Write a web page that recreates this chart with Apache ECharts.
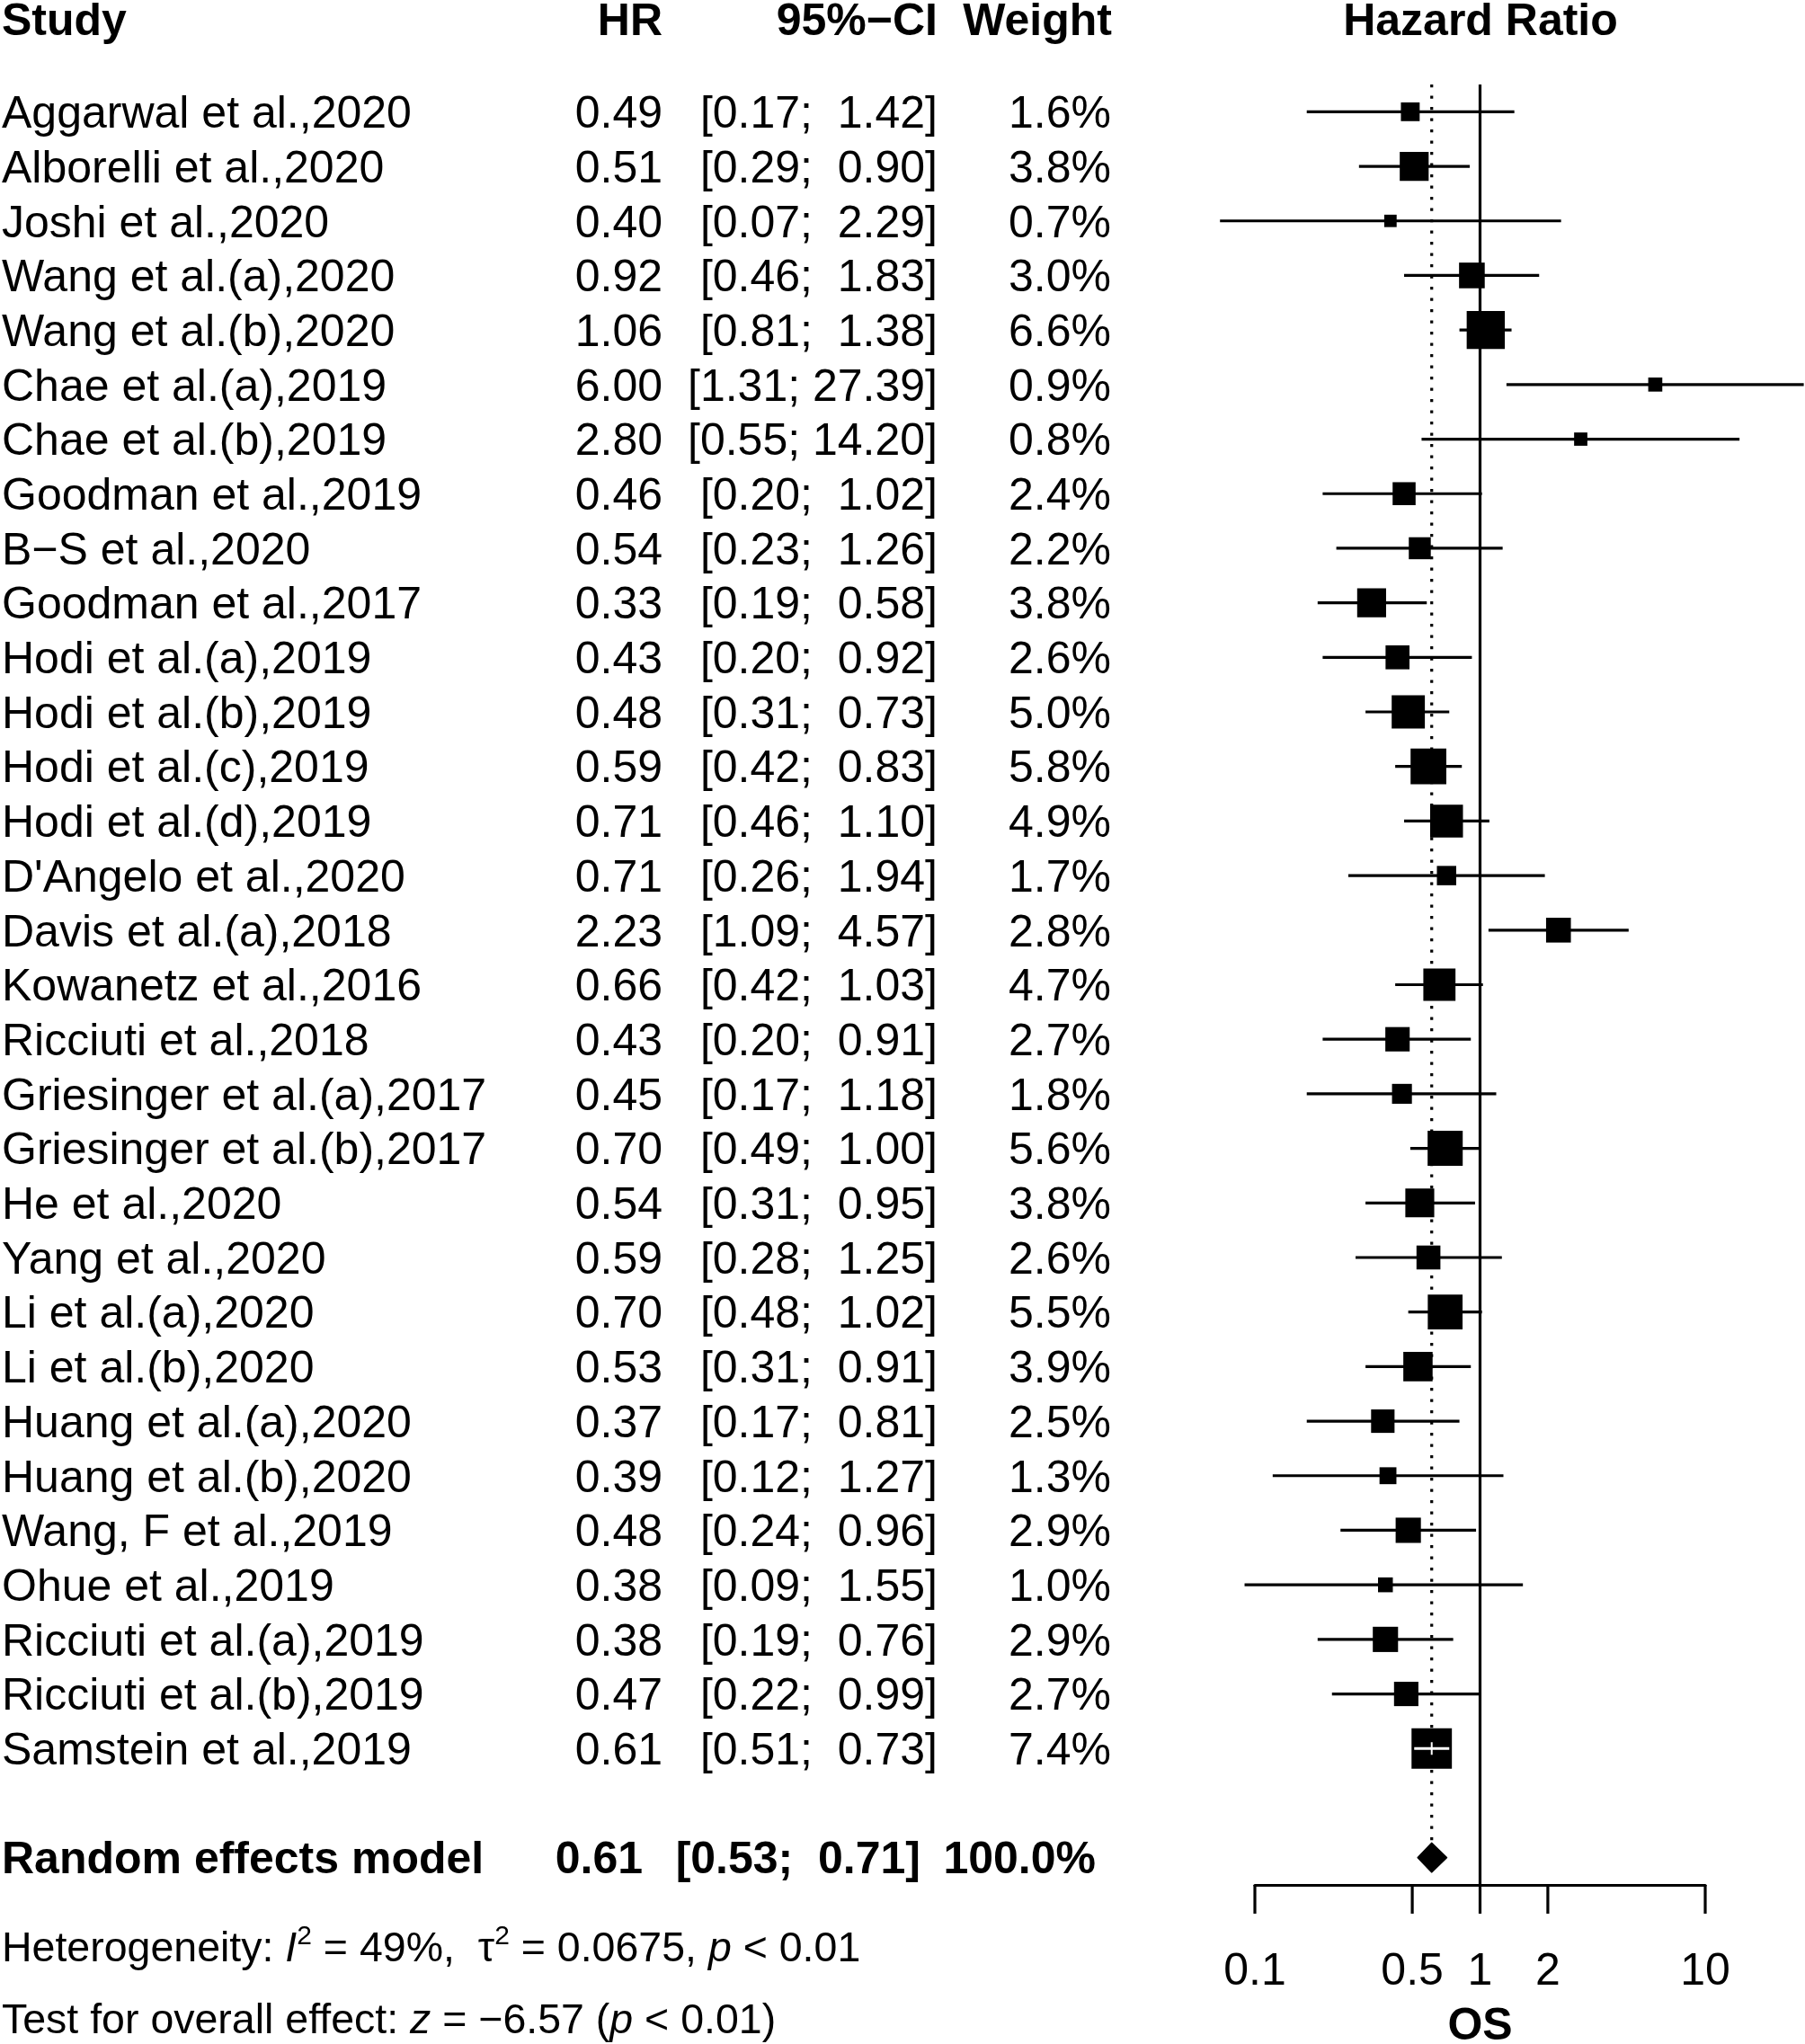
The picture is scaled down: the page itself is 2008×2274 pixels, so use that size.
<!DOCTYPE html>
<html>
<head>
<meta charset="utf-8" />
<title>Forest plot - OS</title>
<script src="https://cdn.jsdelivr.net/npm/echarts@6/dist/echarts.min.js"></script>
<style>html,body{margin:0;padding:0;background:#fff;}</style>
</head>
<body>
<div id="main" style="width:2008px;height:2274px"></div>
<script>
var studies = [
  "Aggarwal et al.,2020", "Alborelli et al.,2020", "Joshi et al.,2020",
  "Wang et al.(a),2020", "Wang et al.(b),2020", "Chae et al.(a),2019",
  "Chae et al.(b),2019", "Goodman et al.,2019", "B\u2212S et al.,2020",
  "Goodman et al.,2017", "Hodi et al.(a),2019", "Hodi et al.(b),2019",
  "Hodi et al.(c),2019", "Hodi et al.(d),2019", "D'Angelo et al.,2020",
  "Davis et al.(a),2018", "Kowanetz et al.,2016", "Ricciuti et al.,2018",
  "Griesinger et al.(a),2017", "Griesinger et al.(b),2017", "He et al.,2020",
  "Yang et al.,2020", "Li et al.(a),2020", "Li et al.(b),2020",
  "Huang et al.(a),2020", "Huang et al.(b),2020", "Wang, F et al.,2019",
  "Ohue et al.,2019", "Ricciuti et al.(a),2019", "Ricciuti et al.(b),2019",
  "Samstein et al.,2019"
];
var hr = [0.49, 0.51, 0.40, 0.92, 1.06, 6.00, 2.80, 0.46, 0.54, 0.33, 0.43,
  0.48, 0.59, 0.71, 0.71, 2.23, 0.66, 0.43, 0.45, 0.70, 0.54, 0.59, 0.70,
  0.53, 0.37, 0.39, 0.48, 0.38, 0.38, 0.47, 0.61];
var lower = [0.17, 0.29, 0.07, 0.46, 0.81, 1.31, 0.55, 0.20, 0.23, 0.19, 0.20,
  0.31, 0.42, 0.46, 0.26, 1.09, 0.42, 0.20, 0.17, 0.49, 0.31, 0.28, 0.48,
  0.31, 0.17, 0.12, 0.24, 0.09, 0.19, 0.22, 0.51];
var upper = [1.42, 0.90, 2.29, 1.83, 1.38, 27.39, 14.20, 1.02, 1.26, 0.58, 0.92,
  0.73, 0.83, 1.10, 1.94, 4.57, 1.03, 0.91, 1.18, 1.00, 0.95, 1.25, 1.02,
  0.91, 0.81, 1.27, 0.96, 1.55, 0.76, 0.99, 0.73];
var weight = [1.6, 3.8, 0.7, 3.0, 6.6, 0.9, 0.8, 2.4, 2.2, 3.8, 2.6, 5.0, 5.8,
  4.9, 1.7, 2.8, 4.7, 2.7, 1.8, 5.6, 3.8, 2.6, 5.5, 3.9, 2.5, 1.3, 2.9, 1.0,
  2.9, 2.7, 7.4];

var pooledLabel = "Random effects model";
var pooled = [0.61, 0.53, 0.71];   // HR, lower, upper
var pooledWeight = "100.0%";
var tickValues = [0.1, 0.5, 1, 2, 10];
var headers = ["Study", "HR", "95%\u2212CI", "Weight", "Hazard Ratio"];
var hetText = "Heterogeneity: {it|I}{sup|2} = 49%,  \u03c4{sup|2} = 0.0675, {it|p} < 0.01";
var testText = "Test for overall effect: {it|z} = \u22126.57 ({it|p} < 0.01)";

var FONT = '"Liberation Sans", Arial, Helvetica, sans-serif';
var summaryRow = 32;
var LW = 3.2;
var TXT_DY = 4;   // text sits a little below the marks

function fmtCI(lo, hi) {
  var h = hi.toFixed(2);
  while (h.length < 5) h = ' ' + h;
  return '[' + lo.toFixed(2) + '; ' + h + ']';
}

function txt(x, y, s, align, bold) {
  return {
    type: 'text', x: x, y: y + TXT_DY,
    style: {
      text: s, textAlign: align, align: align,
      textVerticalAlign: 'middle', verticalAlign: 'middle',
      font: (bold ? 'bold ' : '') + '50px ' + FONT, fill: '#000'
    }
  };
}

function renderRefLines(params, api) {
  var top = api.coord([1, -0.5]);
  var bot = api.coord([1, 32.5]);
  var pTop = api.coord([pooled[0], -0.5]);
  var pBot = api.coord([pooled[0], summaryRow]);
  return {
    type: 'group',
    children: [
      { type: 'line', shape: { x1: pTop[0], y1: pTop[1], x2: pBot[0], y2: pBot[1] - 16 },
        style: { stroke: '#000', lineWidth: LW, lineDash: [3.2, 9.3] } },
      { type: 'line', shape: { x1: top[0], y1: top[1], x2: bot[0], y2: bot[1] },
        style: { stroke: '#000', lineWidth: LW } }
    ]
  };
}

function renderTicks(params, api) {
  var p = api.coord([api.value(0), 32.5]);
  return {
    type: 'group',
    children: [
      { type: 'line', shape: { x1: p[0], y1: p[1], x2: p[0], y2: p[1] + 32 },
        style: { stroke: '#000', lineWidth: LW } },
      txt(p[0], p[1] + 93, String(tickValues[params.dataIndex]), 'center', false)
    ]
  };
}

function renderStudy(params, api) {
  var i = params.dataIndex;
  var row = api.value(4);
  var est = api.coord([api.value(0), row]);
  var lo = api.coord([api.value(1), row]);
  var hi = api.coord([api.value(2), row]);
  var side = 16.5 * Math.sqrt(api.value(3));
  var y = est[1];
  var children = [
    { type: 'line', shape: { x1: lo[0], y1: y, x2: hi[0], y2: y },
      style: { stroke: '#000', lineWidth: LW } },
    { type: 'rect', shape: { x: est[0] - side / 2, y: y - side / 2, width: side, height: side },
      style: { fill: '#000' } }
  ];
  if (lo[0] >= est[0] - side / 2 && hi[0] <= est[0] + side / 2) {
    // CI lies inside the box: draw it in white
    children.push({ type: 'line', shape: { x1: lo[0], y1: y, x2: hi[0], y2: y },
      style: { stroke: '#fff', lineWidth: LW } });
    children.push({ type: 'line', shape: { x1: est[0], y1: y - 7, x2: est[0], y2: y + 7 },
      style: { stroke: '#fff', lineWidth: 2 } });
  }
  children.push(txt(2, y, studies[i], 'left', false));
  children.push(txt(737, y, hr[i].toFixed(2), 'right', false));
  children.push(txt(1043, y, fmtCI(lower[i], upper[i]), 'right', false));
  children.push(txt(1236, y, weight[i].toFixed(1) + '%', 'right', false));
  return { type: 'group', children: children };
}

function renderPooled(params, api) {
  var row = api.value(3);
  var est = api.coord([api.value(0), row]);
  var lo = api.coord([api.value(1), row]);
  var hi = api.coord([api.value(2), row]);
  var y = est[1], h = 16;
  return {
    type: 'group',
    children: [
      { type: 'polygon',
        shape: { points: [[lo[0], y], [est[0], y - h], [hi[0], y], [est[0], y + h]] },
        style: { fill: '#000', stroke: '#000', lineWidth: 2, lineJoin: 'round' } },
      txt(2, y, pooledLabel, 'left', true),
      txt(715, y, pooled[0].toFixed(2), 'right', true),
      txt(1024, y, fmtCI(pooled[1], pooled[2]), 'right', true),
      txt(1219, y, pooledWeight, 'right', true)
    ]
  };
}

var studyData = studies.map(function (s, i) {
  return [hr[i], lower[i], upper[i], weight[i], i];
});

function header(x, s, align) {
  return txt(x, 21, s, align, true);
}

var richStyles = {
  it: { fontStyle: 'italic', fontSize: 46.5, fontFamily: FONT, fill: '#000', color: '#000' },
  sup: { fontSize: 30, fontFamily: FONT, lineHeight: 30, verticalAlign: 'top', fill: '#000', color: '#000' }
};

var option = {
  animation: false,
  backgroundColor: '#fff',
  grid: { left: 1396, right: 111, top: 94, bottom: 177, containLabel: false, outerBoundsMode: 'none' },
  xAxis: {
    type: 'log', logBase: 10, min: 0.1, max: 10,
    axisLine: { show: true, onZero: false, lineStyle: { color: '#000', width: LW } },
    axisTick: { show: false },
    axisLabel: { show: false },
    splitLine: { show: false },
    minorTick: { show: false },
    name: 'OS', nameLocation: 'middle', nameGap: 133,
    nameTextStyle: { fontSize: 50, fontWeight: 'bold', fontFamily: FONT, color: '#000' }
  },
  yAxis: { type: 'value', min: -0.5, max: 32.5, inverse: true, show: false },
  graphic: [
    header(2, headers[0], 'left'),
    header(737, headers[1], 'right'),
    header(1043, headers[2], 'right'),
    header(1237, headers[3], 'right'),
    header(1647, headers[4], 'center'),
    {
      type: 'text', x: 2, y: 2169,
      style: {
        text: hetText, textAlign: 'left', align: 'left',
        textVerticalAlign: 'middle', verticalAlign: 'middle',
        font: '46.5px ' + FONT, fontSize: 46.5, fontFamily: FONT, lineHeight: 58,
        fill: '#000', rich: richStyles
      }
    },
    {
      type: 'text', x: 2, y: 2249,
      style: {
        text: testText, textAlign: 'left', align: 'left',
        textVerticalAlign: 'middle', verticalAlign: 'middle',
        font: '46.5px ' + FONT, fontSize: 46.5, fontFamily: FONT,
        fill: '#000', rich: richStyles
      }
    }
  ],
  series: [
    { type: 'custom', name: 'reference', clip: false, silent: true,
      renderItem: renderRefLines, data: [[1, -0.5]], encode: { x: 0, y: 1 } },
    { type: 'custom', name: 'ticks', clip: false, silent: true,
      renderItem: renderTicks, data: tickValues.map(function (v) { return [v, 32.5]; }),
      encode: { x: 0, y: 1 } },
    { type: 'custom', name: 'studies', clip: false,
      renderItem: renderStudy, data: studyData, encode: { x: [0, 1, 2], y: 4 } },
    { type: 'custom', name: 'pooled', clip: false,
      renderItem: renderPooled, data: [[pooled[0], pooled[1], pooled[2], summaryRow]],
      encode: { x: [0, 1, 2], y: 3 } }
  ]
};

var myChart = echarts.init(document.getElementById('main'));
myChart.setOption(option);
</script>
</body>
</html>
